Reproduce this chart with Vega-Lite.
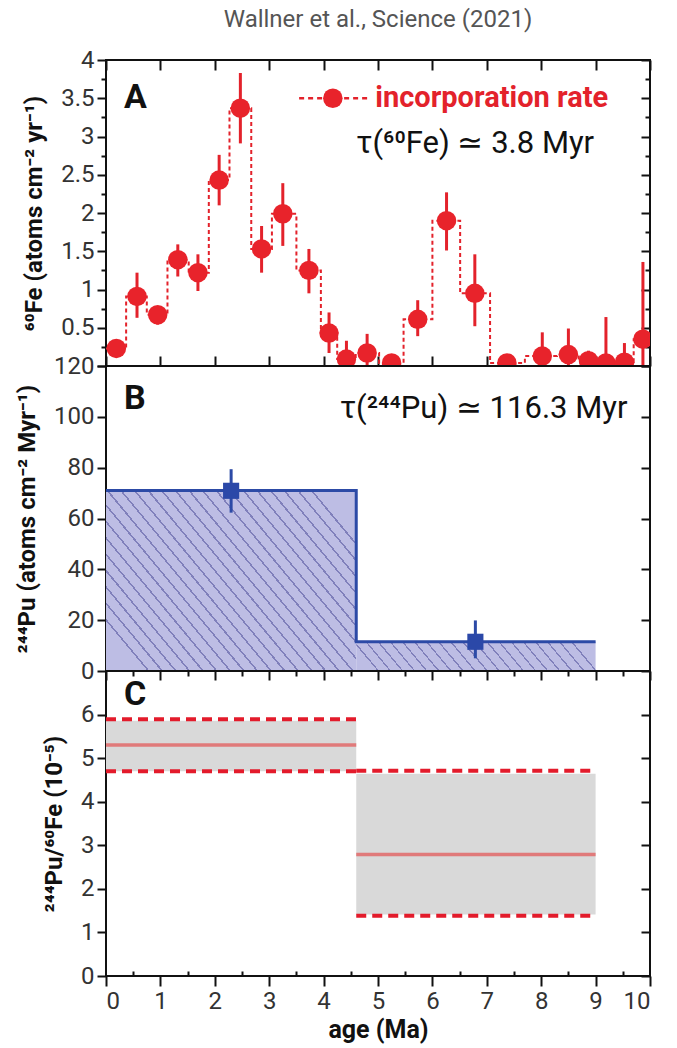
{
  "$schema": "https://vega.github.io/schema/vega-lite/v6.json",
  "background": "white",
  "padding": {"left": 14, "right": 10, "top": 8, "bottom": 4},
  "title": {"text": "Wallner et al., Science (2021)", "fontSize": 24, "font": "Roboto", "fontWeight": "normal", "color": "#555555", "anchor": "middle", "frame": "group", "offset": 15},
  "bounds": "flush",
  "spacing": 0,
  "vconcat": [
    {
      "width": 544, "height": 306,
      "resolve": {"axis": {"x": "independent", "y": "independent"}},
      "layer": [
        {
          "data": {"values": [{"age": 0, "val": 0}]},
          "mark": {"type": "point", "opacity": 0},
          "encoding": {
            "x": {"field": "age", "type": "quantitative", "scale": {"domain": [0, 10], "nice": false}, "axis": {"orient": "bottom", "values": [0,1,2,3,4,5,6,7,8,9,10], "labels": false, "tickSize": -10, "title": null}},
            "y": {"field": "val", "type": "quantitative", "scale": {"domain": [0, 4], "nice": false}, "axis": {"orient": "left", "values": [0,0.25,0.5,0.75,1,1.25,1.5,1.75,2,2.25,2.5,2.75,3,3.25,3.5,3.75,4], "labelExpr": "datum.value > 0 && datum.value % 0.5 == 0 ? toString(datum.value) : ''", "tickSize": {"expr": "datum.value % 0.5 == 0 ? 9 : 5"}, "title": "⁶⁰Fe (atoms cm⁻² yr⁻¹)"}}
          }
        },
        {
          "data": {"values": [{"age": 0, "val": 0}]},
          "mark": {"type": "point", "opacity": 0},
          "encoding": {
            "x": {"field": "age", "type": "quantitative", "scale": {"domain": [0, 10], "nice": false}, "axis": {"orient": "top", "values": [0,1,2,3,4,5,6,7,8,9,10], "labels": false, "tickSize": -10, "title": null}},
            "y": {"field": "val", "type": "quantitative", "scale": {"domain": [0, 4], "nice": false}, "axis": {"orient": "right", "values": [0,0.25,0.5,0.75,1,1.25,1.5,1.75,2,2.25,2.5,2.75,3,3.25,3.5,3.75,4], "labels": false, "tickSize": {"expr": "datum.value % 0.5 == 0 ? -9 : -5"}, "title": null}}
          }
        },
        {
          "data": {"values": [
            {"start": 0.00, "val": 0.23}, {"start": 0.37, "val": 0.91}, {"start": 0.75, "val": 0.67},
            {"start": 1.13, "val": 1.39}, {"start": 1.52, "val": 1.22}, {"start": 1.89, "val": 2.43},
            {"start": 2.27, "val": 3.37}, {"start": 2.67, "val": 1.53}, {"start": 3.05, "val": 1.99},
            {"start": 3.50, "val": 1.25}, {"start": 3.95, "val": 0.43}, {"start": 4.25, "val": 0.09},
            {"start": 4.59, "val": 0.17}, {"start": 5.02, "val": 0.04}, {"start": 5.47, "val": 0.61},
            {"start": 6.00, "val": 1.90}, {"start": 6.51, "val": 0.95}, {"start": 7.06, "val": 0.04},
            {"start": 7.70, "val": 0.13}, {"start": 8.29, "val": 0.15}, {"start": 8.69, "val": 0.07},
            {"start": 9.03, "val": 0.04}, {"start": 9.36, "val": 0.05}, {"start": 9.70, "val": 0.35},
            {"start": 10.0, "val": 0.35}
          ]},
          "mark": {"type": "line", "interpolate": "step-after", "strokeDash": [4, 3], "strokeWidth": 2, "color": "#e3222b", "clip": true},
          "encoding": {
            "x": {"field": "start", "type": "quantitative", "scale": {"domain": [0, 10]}, "axis": null},
            "y": {"field": "val", "type": "quantitative", "scale": {"domain": [0, 4]}, "axis": null}
          }
        },
        {
          "data": {"values": [
            {"age": 0.19, "val": 0.23, "lo": 0.16, "hi": 0.31},
            {"age": 0.57, "val": 0.91, "lo": 0.63, "hi": 1.22},
            {"age": 0.95, "val": 0.67, "lo": 0.54, "hi": 0.78},
            {"age": 1.32, "val": 1.39, "lo": 1.17, "hi": 1.59},
            {"age": 1.69, "val": 1.22, "lo": 0.98, "hi": 1.46},
            {"age": 2.08, "val": 2.43, "lo": 2.10, "hi": 2.76},
            {"age": 2.47, "val": 3.37, "lo": 2.91, "hi": 3.83},
            {"age": 2.86, "val": 1.53, "lo": 1.22, "hi": 1.83},
            {"age": 3.25, "val": 1.99, "lo": 1.57, "hi": 2.39},
            {"age": 3.73, "val": 1.25, "lo": 0.95, "hi": 1.53},
            {"age": 4.10, "val": 0.43, "lo": 0.17, "hi": 0.70},
            {"age": 4.42, "val": 0.09, "lo": 0, "hi": 0.33},
            {"age": 4.80, "val": 0.17, "lo": 0, "hi": 0.42},
            {"age": 5.25, "val": 0.04, "lo": 0, "hi": 0.10},
            {"age": 5.73, "val": 0.61, "lo": 0.39, "hi": 0.86},
            {"age": 6.26, "val": 1.90, "lo": 1.51, "hi": 2.27},
            {"age": 6.78, "val": 0.95, "lo": 0.52, "hi": 1.46},
            {"age": 7.37, "val": 0.04, "lo": 0, "hi": 0.08},
            {"age": 8.02, "val": 0.13, "lo": 0, "hi": 0.44},
            {"age": 8.50, "val": 0.15, "lo": 0, "hi": 0.49},
            {"age": 8.87, "val": 0.07, "lo": 0, "hi": 0.20},
            {"age": 9.19, "val": 0.04, "lo": 0, "hi": 0.64},
            {"age": 9.53, "val": 0.05, "lo": 0, "hi": 0.30},
            {"age": 9.87, "val": 0.35, "lo": 0, "hi": 1.36}
          ]},
          "layer": [
            {
              "mark": {"type": "rule", "strokeWidth": 3, "color": "#e3222b", "clip": true},
              "encoding": {
                "x": {"field": "age", "type": "quantitative", "scale": {"domain": [0, 10]}, "axis": null},
                "y": {"field": "lo", "type": "quantitative", "scale": {"domain": [0, 4]}, "axis": null},
                "y2": {"field": "hi"}
              }
            },
            {
              "mark": {"type": "point", "filled": true, "shape": "circle", "size": 380, "opacity": 1, "color": "#e8232b", "clip": true},
              "encoding": {
                "x": {"field": "age", "type": "quantitative", "scale": {"domain": [0, 10]}, "axis": null},
                "y": {"field": "val", "type": "quantitative", "scale": {"domain": [0, 4]}, "axis": null}
              }
            }
          ]
        },
        {
          "data": {"values": [{"a": 3.55, "b": 4.85, "v": 3.5}]},
          "mark": {"type": "rule", "strokeDash": [5, 4], "strokeWidth": 2.5, "color": "#e3222b"},
          "encoding": {
            "x": {"field": "a", "type": "quantitative", "scale": {"domain": [0, 10]}, "axis": null},
            "x2": {"field": "b"},
            "y": {"field": "v", "type": "quantitative", "scale": {"domain": [0, 4]}, "axis": null}
          }
        },
        {
          "data": {"values": [{"a": 4.17, "v": 3.5}]},
          "mark": {"type": "point", "filled": true, "shape": "circle", "size": 380, "opacity": 1, "color": "#e8232b"},
          "encoding": {
            "x": {"field": "a", "type": "quantitative", "scale": {"domain": [0, 10]}, "axis": null},
            "y": {"field": "v", "type": "quantitative", "scale": {"domain": [0, 4]}, "axis": null}
          }
        },
        {
          "data": {"values": [{"a": 4.95, "v": 3.5, "t": "incorporation rate"}]},
          "mark": {"type": "text", "align": "left", "baseline": "middle", "fontSize": 29, "fontWeight": "bold", "font": "Roboto", "color": "#e3222b"},
          "encoding": {
            "x": {"field": "a", "type": "quantitative", "scale": {"domain": [0, 10]}, "axis": null},
            "y": {"field": "v", "type": "quantitative", "scale": {"domain": [0, 4]}, "axis": null},
            "text": {"field": "t"}
          }
        },
        {
          "data": {"values": [{"a": 4.6, "v": 2.9, "t": "τ(⁶⁰Fe)  ≃  3.8 Myr"}]},
          "mark": {"type": "text", "align": "left", "baseline": "middle", "fontSize": 31, "font": "Roboto", "color": "#111111"},
          "encoding": {
            "x": {"field": "a", "type": "quantitative", "scale": {"domain": [0, 10]}, "axis": null},
            "y": {"field": "v", "type": "quantitative", "scale": {"domain": [0, 4]}, "axis": null},
            "text": {"field": "t"}
          }
        },
        {
          "data": {"values": [{"a": 0.33, "v": 3.5, "t": "A"}]},
          "mark": {"type": "text", "align": "left", "baseline": "middle", "fontSize": 34, "fontWeight": "bold", "font": "Roboto", "color": "#111111"},
          "encoding": {
            "x": {"field": "a", "type": "quantitative", "scale": {"domain": [0, 10]}, "axis": null},
            "y": {"field": "v", "type": "quantitative", "scale": {"domain": [0, 4]}, "axis": null},
            "text": {"field": "t"}
          }
        }
      ]
    },
    {
      "width": 544, "height": 305,
      "resolve": {"axis": {"x": "independent", "y": "independent"}},
      "layer": [
        {
          "data": {"values": [{"age": 0, "val": 0}]},
          "mark": {"type": "point", "opacity": 0},
          "encoding": {
            "x": {"field": "age", "type": "quantitative", "scale": {"domain": [0, 10], "nice": false}, "axis": null},
            "y": {"field": "val", "type": "quantitative", "scale": {"domain": [0, 120], "nice": false}, "axis": {"orient": "left", "values": [0,20,40,60,80,100,120], "tickSize": 9, "title": "²⁴⁴Pu  (atoms cm⁻² Myr⁻¹)"}}
          }
        },
        {
          "data": {"values": [{"age": 0, "val": 0}]},
          "mark": {"type": "point", "opacity": 0},
          "encoding": {
            "x": {"field": "age", "type": "quantitative", "scale": {"domain": [0, 10]}, "axis": null},
            "y": {"field": "val", "type": "quantitative", "scale": {"domain": [0, 120]}, "axis": {"orient": "right", "values": [0,20,40,60,80,100,120], "labels": false, "tickSize": -9, "title": null}}
          }
        },
        {
          "data": {"values": [{"a": 0, "b": 4.6, "v": 71}]},
          "mark": {"type": "rect", "fill": {"gradient": "linear", "x1": 0, "y1": 0.8, "x2": 1, "y2": 0.2, "stops": [
            {"offset": 0, "color": "#bdbde4"}, {"offset": 0.034, "color": "#bdbde4"}, {"offset": 0.034, "color": "#8080bb"}, {"offset": 0.04, "color": "#8080bb"},
            {"offset": 0.04, "color": "#bdbde4"}, {"offset": 0.074, "color": "#bdbde4"}, {"offset": 0.074, "color": "#8080bb"}, {"offset": 0.08, "color": "#8080bb"},
            {"offset": 0.08, "color": "#bdbde4"}, {"offset": 0.114, "color": "#bdbde4"}, {"offset": 0.114, "color": "#8080bb"}, {"offset": 0.12, "color": "#8080bb"},
            {"offset": 0.12, "color": "#bdbde4"}, {"offset": 0.154, "color": "#bdbde4"}, {"offset": 0.154, "color": "#8080bb"}, {"offset": 0.16, "color": "#8080bb"},
            {"offset": 0.16, "color": "#bdbde4"}, {"offset": 0.194, "color": "#bdbde4"}, {"offset": 0.194, "color": "#8080bb"}, {"offset": 0.2, "color": "#8080bb"},
            {"offset": 0.2, "color": "#bdbde4"}, {"offset": 0.234, "color": "#bdbde4"}, {"offset": 0.234, "color": "#8080bb"}, {"offset": 0.24, "color": "#8080bb"},
            {"offset": 0.24, "color": "#bdbde4"}, {"offset": 0.274, "color": "#bdbde4"}, {"offset": 0.274, "color": "#8080bb"}, {"offset": 0.28, "color": "#8080bb"},
            {"offset": 0.28, "color": "#bdbde4"}, {"offset": 0.314, "color": "#bdbde4"}, {"offset": 0.314, "color": "#8080bb"}, {"offset": 0.32, "color": "#8080bb"},
            {"offset": 0.32, "color": "#bdbde4"}, {"offset": 0.354, "color": "#bdbde4"}, {"offset": 0.354, "color": "#8080bb"}, {"offset": 0.36, "color": "#8080bb"},
            {"offset": 0.36, "color": "#bdbde4"}, {"offset": 0.394, "color": "#bdbde4"}, {"offset": 0.394, "color": "#8080bb"}, {"offset": 0.4, "color": "#8080bb"},
            {"offset": 0.4, "color": "#bdbde4"}, {"offset": 0.434, "color": "#bdbde4"}, {"offset": 0.434, "color": "#8080bb"}, {"offset": 0.44, "color": "#8080bb"},
            {"offset": 0.44, "color": "#bdbde4"}, {"offset": 0.474, "color": "#bdbde4"}, {"offset": 0.474, "color": "#8080bb"}, {"offset": 0.48, "color": "#8080bb"},
            {"offset": 0.48, "color": "#bdbde4"}, {"offset": 0.514, "color": "#bdbde4"}, {"offset": 0.514, "color": "#8080bb"}, {"offset": 0.52, "color": "#8080bb"},
            {"offset": 0.52, "color": "#bdbde4"}, {"offset": 0.554, "color": "#bdbde4"}, {"offset": 0.554, "color": "#8080bb"}, {"offset": 0.56, "color": "#8080bb"},
            {"offset": 0.56, "color": "#bdbde4"}, {"offset": 0.594, "color": "#bdbde4"}, {"offset": 0.594, "color": "#8080bb"}, {"offset": 0.6, "color": "#8080bb"},
            {"offset": 0.6, "color": "#bdbde4"}, {"offset": 0.634, "color": "#bdbde4"}, {"offset": 0.634, "color": "#8080bb"}, {"offset": 0.64, "color": "#8080bb"},
            {"offset": 0.64, "color": "#bdbde4"}, {"offset": 0.674, "color": "#bdbde4"}, {"offset": 0.674, "color": "#8080bb"}, {"offset": 0.68, "color": "#8080bb"},
            {"offset": 0.68, "color": "#bdbde4"}, {"offset": 0.714, "color": "#bdbde4"}, {"offset": 0.714, "color": "#8080bb"}, {"offset": 0.72, "color": "#8080bb"},
            {"offset": 0.72, "color": "#bdbde4"}, {"offset": 0.754, "color": "#bdbde4"}, {"offset": 0.754, "color": "#8080bb"}, {"offset": 0.76, "color": "#8080bb"},
            {"offset": 0.76, "color": "#bdbde4"}, {"offset": 0.794, "color": "#bdbde4"}, {"offset": 0.794, "color": "#8080bb"}, {"offset": 0.8, "color": "#8080bb"},
            {"offset": 0.8, "color": "#bdbde4"}, {"offset": 0.834, "color": "#bdbde4"}, {"offset": 0.834, "color": "#8080bb"}, {"offset": 0.84, "color": "#8080bb"},
            {"offset": 0.84, "color": "#bdbde4"}, {"offset": 0.874, "color": "#bdbde4"}, {"offset": 0.874, "color": "#8080bb"}, {"offset": 0.88, "color": "#8080bb"},
            {"offset": 0.88, "color": "#bdbde4"}, {"offset": 0.914, "color": "#bdbde4"}, {"offset": 0.914, "color": "#8080bb"}, {"offset": 0.92, "color": "#8080bb"},
            {"offset": 0.92, "color": "#bdbde4"}, {"offset": 0.954, "color": "#bdbde4"}, {"offset": 0.954, "color": "#8080bb"}, {"offset": 0.96, "color": "#8080bb"},
            {"offset": 0.96, "color": "#bdbde4"}, {"offset": 1, "color": "#bdbde4"}
          ]}},
          "encoding": {
            "x": {"field": "a", "type": "quantitative", "scale": {"domain": [0, 10]}, "axis": null},
            "x2": {"field": "b"},
            "y": {"field": "v", "type": "quantitative", "scale": {"domain": [0, 120]}, "axis": null},
            "y2": {"datum": 0}
          }
        },
        {
          "data": {"values": [{"a": 4.6, "b": 9.0, "v": 11.5}]},
          "mark": {"type": "rect", "fill": {"gradient": "linear", "x1": 0, "y1": 0.551, "x2": 1, "y2": 0.449, "stops": [
            {"offset": 0, "color": "#bdbde4"}, {"offset": 0.043, "color": "#bdbde4"}, {"offset": 0.043, "color": "#8080bb"}, {"offset": 0.05, "color": "#8080bb"},
            {"offset": 0.05, "color": "#bdbde4"}, {"offset": 0.093, "color": "#bdbde4"}, {"offset": 0.093, "color": "#8080bb"}, {"offset": 0.1, "color": "#8080bb"},
            {"offset": 0.1, "color": "#bdbde4"}, {"offset": 0.143, "color": "#bdbde4"}, {"offset": 0.143, "color": "#8080bb"}, {"offset": 0.15, "color": "#8080bb"},
            {"offset": 0.15, "color": "#bdbde4"}, {"offset": 0.193, "color": "#bdbde4"}, {"offset": 0.193, "color": "#8080bb"}, {"offset": 0.2, "color": "#8080bb"},
            {"offset": 0.2, "color": "#bdbde4"}, {"offset": 0.243, "color": "#bdbde4"}, {"offset": 0.243, "color": "#8080bb"}, {"offset": 0.25, "color": "#8080bb"},
            {"offset": 0.25, "color": "#bdbde4"}, {"offset": 0.293, "color": "#bdbde4"}, {"offset": 0.293, "color": "#8080bb"}, {"offset": 0.3, "color": "#8080bb"},
            {"offset": 0.3, "color": "#bdbde4"}, {"offset": 0.343, "color": "#bdbde4"}, {"offset": 0.343, "color": "#8080bb"}, {"offset": 0.35, "color": "#8080bb"},
            {"offset": 0.35, "color": "#bdbde4"}, {"offset": 0.393, "color": "#bdbde4"}, {"offset": 0.393, "color": "#8080bb"}, {"offset": 0.4, "color": "#8080bb"},
            {"offset": 0.4, "color": "#bdbde4"}, {"offset": 0.443, "color": "#bdbde4"}, {"offset": 0.443, "color": "#8080bb"}, {"offset": 0.45, "color": "#8080bb"},
            {"offset": 0.45, "color": "#bdbde4"}, {"offset": 0.493, "color": "#bdbde4"}, {"offset": 0.493, "color": "#8080bb"}, {"offset": 0.5, "color": "#8080bb"},
            {"offset": 0.5, "color": "#bdbde4"}, {"offset": 0.543, "color": "#bdbde4"}, {"offset": 0.543, "color": "#8080bb"}, {"offset": 0.55, "color": "#8080bb"},
            {"offset": 0.55, "color": "#bdbde4"}, {"offset": 0.593, "color": "#bdbde4"}, {"offset": 0.593, "color": "#8080bb"}, {"offset": 0.6, "color": "#8080bb"},
            {"offset": 0.6, "color": "#bdbde4"}, {"offset": 0.643, "color": "#bdbde4"}, {"offset": 0.643, "color": "#8080bb"}, {"offset": 0.65, "color": "#8080bb"},
            {"offset": 0.65, "color": "#bdbde4"}, {"offset": 0.693, "color": "#bdbde4"}, {"offset": 0.693, "color": "#8080bb"}, {"offset": 0.7, "color": "#8080bb"},
            {"offset": 0.7, "color": "#bdbde4"}, {"offset": 0.743, "color": "#bdbde4"}, {"offset": 0.743, "color": "#8080bb"}, {"offset": 0.75, "color": "#8080bb"},
            {"offset": 0.75, "color": "#bdbde4"}, {"offset": 0.793, "color": "#bdbde4"}, {"offset": 0.793, "color": "#8080bb"}, {"offset": 0.8, "color": "#8080bb"},
            {"offset": 0.8, "color": "#bdbde4"}, {"offset": 0.843, "color": "#bdbde4"}, {"offset": 0.843, "color": "#8080bb"}, {"offset": 0.85, "color": "#8080bb"},
            {"offset": 0.85, "color": "#bdbde4"}, {"offset": 0.893, "color": "#bdbde4"}, {"offset": 0.893, "color": "#8080bb"}, {"offset": 0.9, "color": "#8080bb"},
            {"offset": 0.9, "color": "#bdbde4"}, {"offset": 0.943, "color": "#bdbde4"}, {"offset": 0.943, "color": "#8080bb"}, {"offset": 0.95, "color": "#8080bb"},
            {"offset": 0.95, "color": "#bdbde4"}, {"offset": 1, "color": "#bdbde4"}
          ]}},
          "encoding": {
            "x": {"field": "a", "type": "quantitative", "scale": {"domain": [0, 10]}, "axis": null},
            "x2": {"field": "b"},
            "y": {"field": "v", "type": "quantitative", "scale": {"domain": [0, 120]}, "axis": null},
            "y2": {"datum": 0}
          }
        },
        {
          "data": {"values": [{"age": 0, "v": 71, "i": 1}, {"age": 4.6, "v": 71, "i": 2}, {"age": 4.6, "v": 11.5, "i": 3}, {"age": 9.0, "v": 11.5, "i": 4}]},
          "mark": {"type": "line", "strokeWidth": 3, "color": "#2c4aa6"},
          "encoding": {
            "x": {"field": "age", "type": "quantitative", "scale": {"domain": [0, 10]}, "axis": null},
            "y": {"field": "v", "type": "quantitative", "scale": {"domain": [0, 120]}, "axis": null},
            "order": {"field": "i", "type": "quantitative"}
          }
        },
        {
          "data": {"values": [{"age": 2.3, "val": 70.9, "lo": 62.3, "hi": 79.4}, {"age": 6.79, "val": 11.5, "lo": 5.0, "hi": 19.9}]},
          "layer": [
            {
              "mark": {"type": "rule", "strokeWidth": 3, "color": "#2c4aa6"},
              "encoding": {
                "x": {"field": "age", "type": "quantitative", "scale": {"domain": [0, 10]}, "axis": null},
                "y": {"field": "lo", "type": "quantitative", "scale": {"domain": [0, 120]}, "axis": null},
                "y2": {"field": "hi"}
              }
            },
            {
              "mark": {"type": "point", "filled": true, "shape": "square", "size": 260, "opacity": 1, "color": "#2b48a8"},
              "encoding": {
                "x": {"field": "age", "type": "quantitative", "scale": {"domain": [0, 10]}, "axis": null},
                "y": {"field": "val", "type": "quantitative", "scale": {"domain": [0, 120]}, "axis": null}
              }
            }
          ]
        },
        {
          "data": {"values": [{"a": 4.3, "v": 103, "t": "τ(²⁴⁴Pu) ≃ 116.3 Myr"}]},
          "mark": {"type": "text", "align": "left", "baseline": "middle", "fontSize": 31, "font": "Roboto", "color": "#111111"},
          "encoding": {
            "x": {"field": "a", "type": "quantitative", "scale": {"domain": [0, 10]}, "axis": null},
            "y": {"field": "v", "type": "quantitative", "scale": {"domain": [0, 120]}, "axis": null},
            "text": {"field": "t"}
          }
        },
        {
          "data": {"values": [{"a": 0.33, "v": 107, "t": "B"}]},
          "mark": {"type": "text", "align": "left", "baseline": "middle", "fontSize": 34, "fontWeight": "bold", "font": "Roboto", "color": "#111111"},
          "encoding": {
            "x": {"field": "a", "type": "quantitative", "scale": {"domain": [0, 10]}, "axis": null},
            "y": {"field": "v", "type": "quantitative", "scale": {"domain": [0, 120]}, "axis": null},
            "text": {"field": "t"}
          }
        }
      ]
    },
    {
      "width": 544, "height": 305,
      "resolve": {"axis": {"x": "independent", "y": "independent"}},
      "layer": [
        {
          "data": {"values": [{"age": 0, "val": 0}]},
          "mark": {"type": "point", "opacity": 0},
          "encoding": {
            "x": {"field": "age", "type": "quantitative", "scale": {"domain": [0, 10], "nice": false}, "axis": {"orient": "bottom", "values": [0,0.5,1,1.5,2,2.5,3,3.5,4,4.5,5,5.5,6,6.5,7,7.5,8,8.5,9,9.5,10], "labelExpr": "datum.value % 1 == 0 ? toString(datum.value) : ''", "tickSize": {"expr": "datum.value % 1 == 0 ? 10 : -5"}, "title": "age (Ma)", "titleFontSize": 25, "titlePadding": 4}},
            "y": {"field": "val", "type": "quantitative", "scale": {"domain": [0, 7], "nice": false}, "axis": {"orient": "left", "values": [0,1,2,3,4,5,6], "tickSize": 9, "title": "²⁴⁴Pu/⁶⁰Fe (10⁻⁵)"}}
          }
        },
        {
          "data": {"values": [{"age": 0, "val": 0}]},
          "mark": {"type": "point", "opacity": 0},
          "encoding": {
            "x": {"field": "age", "type": "quantitative", "scale": {"domain": [0, 10]}, "axis": {"orient": "top", "values": [0,0.5,1,1.5,2,2.5,3,3.5,4,4.5,5,5.5,6,6.5,7,7.5,8,8.5,9,9.5,10], "labels": false, "tickSize": {"expr": "datum.value % 1 == 0 ? -9 : -5"}, "title": null}},
            "y": {"field": "val", "type": "quantitative", "scale": {"domain": [0, 7]}, "axis": {"orient": "right", "values": [0,1,2,3,4,5,6], "labels": false, "tickSize": -9, "title": null}}
          }
        },
        {
          "data": {"values": [{"a": 0, "b": 4.6, "lo": 4.7, "hi": 5.86}, {"a": 4.6, "b": 9.0, "lo": 1.41, "hi": 4.64}]},
          "mark": {"type": "rect", "color": "#d9d9d9"},
          "encoding": {
            "x": {"field": "a", "type": "quantitative", "scale": {"domain": [0, 10]}, "axis": null},
            "x2": {"field": "b"},
            "y": {"field": "lo", "type": "quantitative", "scale": {"domain": [0, 7]}, "axis": null},
            "y2": {"field": "hi"}
          }
        },
        {
          "data": {"values": [{"a": 0, "b": 4.6, "v": 5.3}, {"a": 4.6, "b": 9.0, "v": 2.79}]},
          "mark": {"type": "rule", "strokeWidth": 3.5, "color": "#e07a7a"},
          "encoding": {
            "x": {"field": "a", "type": "quantitative", "scale": {"domain": [0, 10]}, "axis": null},
            "x2": {"field": "b"},
            "y": {"field": "v", "type": "quantitative", "scale": {"domain": [0, 7]}, "axis": null}
          }
        },
        {
          "data": {"values": [{"a": 0, "b": 4.6, "v": 5.89}, {"a": 0, "b": 4.6, "v": 4.7}, {"a": 4.6, "b": 9.0, "v": 4.71}, {"a": 4.6, "b": 9.0, "v": 1.38}]},
          "mark": {"type": "rule", "strokeWidth": 4, "strokeDash": [10, 6], "color": "#e31b2b"},
          "encoding": {
            "x": {"field": "a", "type": "quantitative", "scale": {"domain": [0, 10]}, "axis": null},
            "x2": {"field": "b"},
            "y": {"field": "v", "type": "quantitative", "scale": {"domain": [0, 7]}, "axis": null}
          }
        },
        {
          "data": {"values": [{"a": 0.33, "v": 6.45, "t": "C"}]},
          "mark": {"type": "text", "align": "left", "baseline": "middle", "fontSize": 34, "fontWeight": "bold", "font": "Roboto", "color": "#111111"},
          "encoding": {
            "x": {"field": "a", "type": "quantitative", "scale": {"domain": [0, 10]}, "axis": null},
            "y": {"field": "v", "type": "quantitative", "scale": {"domain": [0, 7]}, "axis": null},
            "text": {"field": "t"}
          }
        }
      ]
    }
  ],
  "config": {
    "view": {"stroke": "#111111", "strokeWidth": 2},
    "axis": {"grid": false, "domain": false, "tickColor": "#111111", "tickWidth": 2, "labelFont": "Roboto", "labelFontSize": 24, "labelColor": "#333333", "labelPadding": 3, "titleFont": "Roboto", "titleFontSize": 24, "titleFontWeight": "bold", "titleColor": "#111111", "titlePadding": 14}
  }
}
